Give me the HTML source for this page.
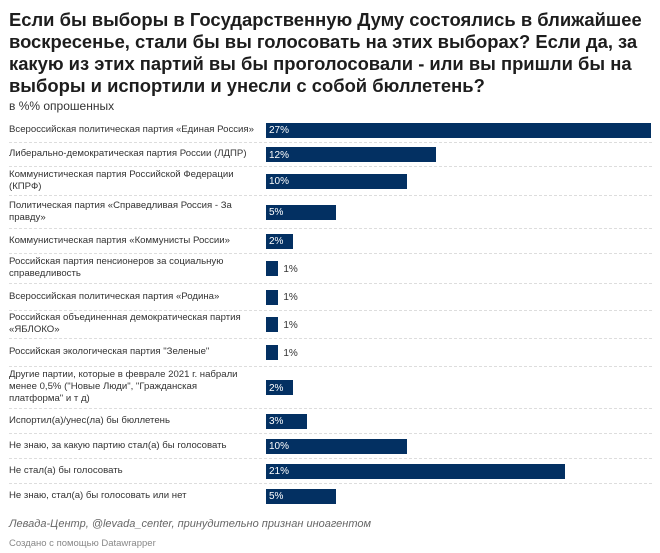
<!DOCTYPE html>
<html><head><meta charset="utf-8"><style>
body{margin:0;width:660px;height:553px;background:#fff;font-family:"Liberation Sans",sans-serif;position:relative;overflow:hidden}
#title{position:absolute;left:9px;top:9px;font-size:18.4px;font-weight:bold;line-height:22px;color:#1d1d1d;white-space:nowrap}
#sub{position:absolute;left:9px;top:99px;font-size:12px;color:#333}
.lab{position:absolute;left:9px;font-size:9.6px;line-height:12px;color:#333;width:256px}
.sep{position:absolute;left:9px;width:643px;border-top:1px dashed #ddd}
.bar{position:absolute;background:#033062;border:1px solid #fff;box-sizing:border-box}
.val{position:absolute;font-size:10px;line-height:12px}
#src{position:absolute;left:9px;top:518px;font-size:11px;font-style:italic;color:#666}
#credit{position:absolute;left:9px;top:538px;font-size:9.5px;color:#888}
</style></head><body>
<div id="title">Если бы выборы в Государственную Думу состоялись в ближайшее<br>воскресенье, стали бы вы голосовать на этих выборах? Если да, за<br>какую из этих партий вы бы проголосовали - или вы пришли бы на<br>выборы и испортили и унесли с собой бюллетень?</div>
<div id="sub">в %% опрошенных</div>
<div id="chart"></div>
<div id="src">Левада-Центр, @levada_center, принудительно признан иноагентом</div>
<div id="credit">Создано с помощью Datawrapper</div>
<script>
const categories=["Всероссийская политическая партия «Единая Россия»","Либерально-демократическая партия России (ЛДПР)","Коммунистическая партия Российской Федерации (КПРФ)","Политическая партия «Справедливая Россия - За правду»","Коммунистическая партия «Коммунисты России»","Российская партия пенсионеров за социальную справедливость","Всероссийская политическая партия «Родина»","Российская объединенная демократическая партия «ЯБЛОКО»","Российская экологическая партия \"Зеленые\"","Другие партии, которые в феврале 2021 г. набрали менее 0,5% (\"Новые Люди\", \"Гражданская платформа\" и т д)","Испортил(а)/унес(ла) бы бюллетень","Не знаю, за какую партию стал(а) бы голосовать","Не стал(а) бы голосовать","Не знаю, стал(а) бы голосовать или нет"];
const values=[27,12,10,5,2,1,1,1,1,2,3,10,21,5];
const rowBounds=[117,142,166,195,228,253,283,310,338,366,408,433,458,483,508];
const x0=265,xMax=652,vMax=27;
function xs(v){return (v/vMax)*(xMax-x0);}
const ch=document.getElementById('chart');
categories.forEach((c,i)=>{
 const top=rowBounds[i],bot=rowBounds[i+1],mid=(top+bot)/2;
 const l=document.createElement('div');l.className='lab';
 
 
 l.textContent=c;ch.appendChild(l);
 if(i===9)l.style.width='244px';
 const h=l.offsetHeight;l.style.top=(mid-h/2)+'px';
 if(i>0){const s=document.createElement('div');s.className='sep';s.style.top=top+'px';
 
 
 ch.appendChild(s);}
 const w=xs(values[i]);
 const b=document.createElement('div');b.className='bar';
 
 
 b.style.left=x0+'px';b.style.width=w+'px';b.style.top=(mid-8)+'px';b.style.height='17px';ch.appendChild(b);
 const t=document.createElement('div');t.className='val';
 
 
 t.textContent=values[i]+'%';t.style.top=(mid-4.5)+'px';
 if(w>25){t.style.left=(x0+4)+'px';t.style.color='#fff';}else{t.style.left=(x0+w+4)+'px';t.style.color='#333';}
 ch.appendChild(t);
});
</script>
</body></html>
